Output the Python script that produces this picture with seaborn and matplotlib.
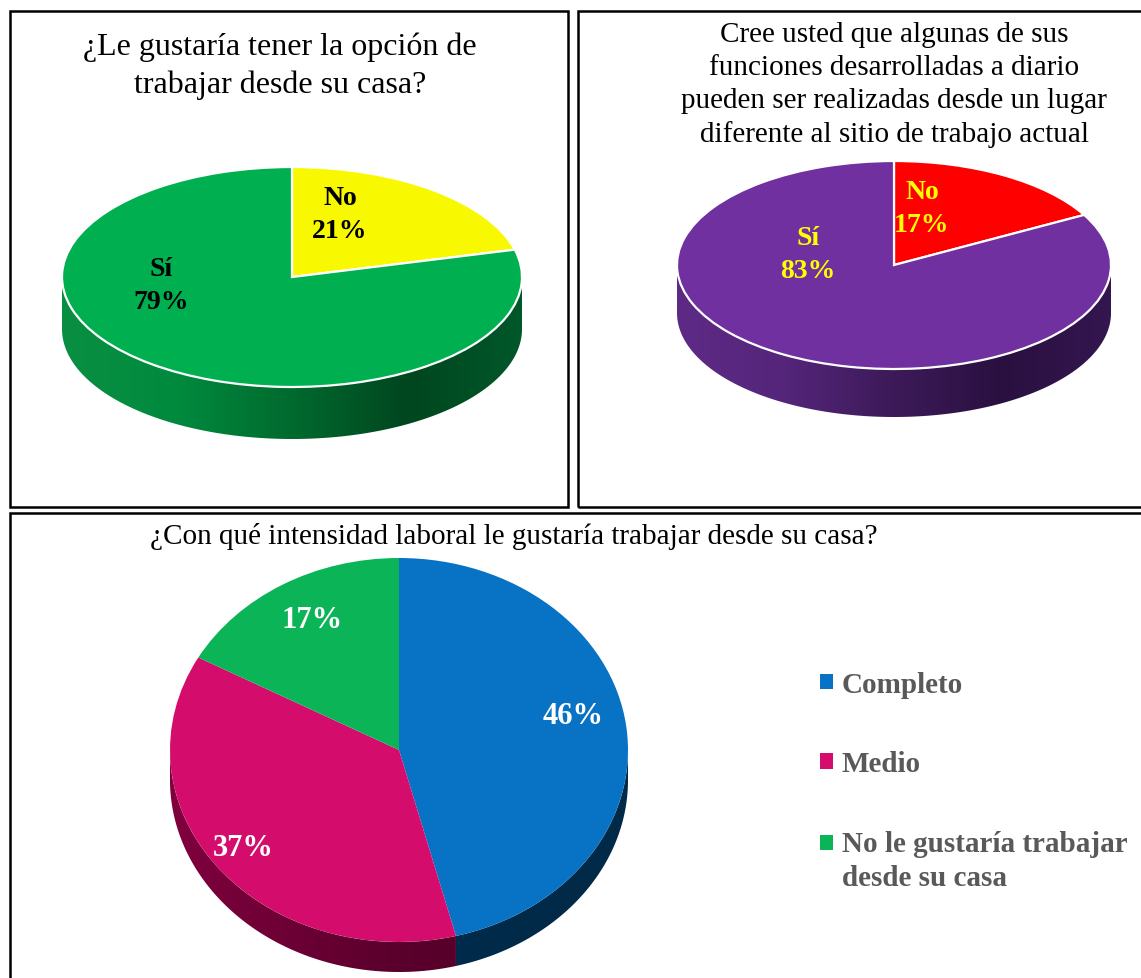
import numpy as np
import matplotlib
matplotlib.use("Agg")
import matplotlib.pyplot as plt
import seaborn as sns
from matplotlib.colors import LinearSegmentedColormap
from matplotlib.patches import Rectangle, Polygon
from matplotlib.legend_handler import HandlerPatch

# ---------------- data ----------------
p1_title = "¿Le gustaría tener la opción de\ntrabajar desde su casa?"
p1_labels = ["No", "Sí"]
p1_values = [21, 79]

p2_title = ("Cree usted que algunas de sus\nfunciones desarrolladas a diario\n"
            "pueden ser realizadas desde un lugar\ndiferente al sitio de trabajo actual")
p2_labels = ["No", "Sí"]
p2_values = [17, 83]

p3_title = "¿Con qué intensidad laboral le gustaría trabajar desde su casa?"
p3_labels = ["Completo", "Medio", "No le gustaría trabajar\ndesde su casa"]
p3_values = [46, 37, 17]

# ---------------- style ----------------
sns.set_theme(style="white")
plt.rcParams["font.family"] = ["Liberation Serif", "DejaVu Serif"]

W, H = 1141, 979
fig = plt.figure(figsize=(W / 100, H / 100), dpi=100)


def fx(px):
    return px / W


def fy(py):
    return 1 - py / H


def pie_axes(cx, cy, rx, ry, depth, m=4):
    left, right = cx - rx - m, cx + rx + m
    top, bottom = cy - ry - m, cy + ry + depth + m
    ax = fig.add_axes([fx(left), fy(bottom), (right - left) / W, (bottom - top) / H])
    lims = ((-1 - m / rx, 1 + m / rx), (-1 - (depth + m) / ry, 1 + m / ry))
    return ax, lims


def draw_pie(ax, lims, values, colors, side_colors, depth_ratio, edge):
    wedges, _ = ax.pie(values, colors=colors, startangle=90, counterclock=False,
                       radius=1,
                       wedgeprops=dict(edgecolor=edge, linewidth=1.6 if edge != "none" else 0,
                                       zorder=3, clip_on=False))
    # 3D side: front half of the rim of each wedge
    for w, sc in zip(wedges, side_colors):
        t1, t2 = w.theta1, w.theta2
        cmap = LinearSegmentedColormap.from_list("side", sc)
        for k in (-1, 0, 1):
            a = max(t1, 180 + 360 * k)
            b = min(t2, 360 + 360 * k)
            if b <= a:
                continue
            t = np.radians(np.linspace(a, b, 300))
            top = np.column_stack([np.cos(t), np.sin(t)])
            bot = np.column_stack([np.cos(t), np.sin(t) - depth_ratio])[::-1]
            poly = Polygon(np.vstack([top, bot]), closed=True, facecolor="none",
                           edgecolor="none")
            ax.add_patch(poly)
            grad = np.linspace(0, 1, 256).reshape(1, -1)
            im = ax.imshow(grad, extent=(-1, 1, -1 - depth_ratio, 1), cmap=cmap,
                           aspect="auto", zorder=1, interpolation="bilinear")
            im.set_clip_path(poly)
    ax.set_aspect("auto")
    ax.set_xlim(*lims[0])
    ax.set_ylim(*lims[1])
    ax.axis("off")
    return wedges


# ---------------- panel borders ----------------
for (x0, y0, x1, y1) in [(10, 12, 568, 508), (578, 12, 1150, 508), (10, 514, 1150, 990)]:
    fig.add_artist(Rectangle((fx(x0), fy(y1)), fx(x1) - fx(x0), fy(y0) - fy(y1),
                             transform=fig.transFigure, fill=False,
                             edgecolor="black", linewidth=1.8, clip_on=False))

# ---------------- pie 1 ----------------
cx, cy, rx, ry, dp = 292, 278, 230, 110, 52
ax1, l1 = pie_axes(cx, cy, rx, ry, dp)
draw_pie(ax1, l1, p1_values, ["#f8f800", "#00b050"],
         [["#c8c800", "#c8c800"],
          ["#0a8f42", "#008a3e", "#006a2e", "#00461f", "#00582a"]],
         dp / ry, "white")
fig.text(fx(280), fy(66), p1_title, ha="center", va="center", fontsize=23,
         linespacing=1.38, color="black")
for lab, val, (px, py) in zip(p1_labels, p1_values, [(340, 215), (161, 286)]):
    fig.text(fx(px), fy(py), f"{lab}\n{val}%", ha="center", va="center",
             fontsize=20, fontweight="bold", color="black", linespacing=1.38)

# ---------------- pie 2 ----------------
cx, cy, rx, ry, dp = 894, 266, 217, 104, 48
ax2, l2 = pie_axes(cx, cy, rx, ry, dp)
draw_pie(ax2, l2, p2_values, ["#ff0000", "#7030a0"],
         [["#a00000", "#a00000"],
          ["#5e2a86", "#54257a", "#3c1a58", "#2a1040", "#341650"]],
         dp / ry, "white")
fig.text(fx(894), fy(85), p2_title, ha="center", va="center", fontsize=21,
         linespacing=1.34, color="black")
for lab, val, (px, py) in zip(p2_labels, p2_values, [(922, 209), (808, 255)]):
    fig.text(fx(px), fy(py), f"{lab}\n{val}%", ha="center", va="center",
             fontsize=20, fontweight="bold", color="#ffff00", linespacing=1.38)

# ---------------- pie 3 ----------------
cx, cy, rx, ry, dp = 399, 751, 229, 192, 30
ax3, l3 = pie_axes(cx, cy, rx, ry, dp)
w3 = draw_pie(ax3, l3, p3_values, ["#0872c4", "#d40c6c", "#0cb458"],
              [["#002c4c", "#002a48"], ["#80003e", "#5a002c", "#4a0025"],
               ["#06602e", "#06602e"]],
              dp / ry, "none")
fig.text(fx(514), fy(536), p3_title, ha="center", va="center", fontsize=21,
         color="black")
for val, (px, py) in zip(p3_values, [(573, 717), (243, 848), (312, 620)]):
    fig.text(fx(px), fy(py), f"{val}%", ha="center", va="center",
             fontsize=22, fontweight="bold", color="white")


def sq(legend, orig_handle, xdescent, ydescent, width, height, fontsize):
    return Rectangle((-xdescent, -ydescent), width, height)


def sq_up(legend, orig_handle, xdescent, ydescent, width, height, fontsize):
    return Rectangle((-xdescent, -ydescent + 0.62 * fontsize), width, height)


hmap = {w3[0]: HandlerPatch(patch_func=sq), w3[1]: HandlerPatch(patch_func=sq),
        w3[2]: HandlerPatch(patch_func=sq_up)}
leg = fig.legend(w3, p3_labels, loc="upper left", bbox_to_anchor=(fx(820), fy(672)),
                 frameon=False, borderaxespad=0, borderpad=0,
                 prop=dict(family="Liberation Serif", weight="bold", size=21),
                 labelcolor="#595959", handlelength=0.45, handleheight=0.45,
                 handletextpad=0.3, labelspacing=1.8, handler_map=hmap)
for t in leg.get_texts():
    t.set_linespacing(1.33)

fig.savefig("out.png", dpi=100)
